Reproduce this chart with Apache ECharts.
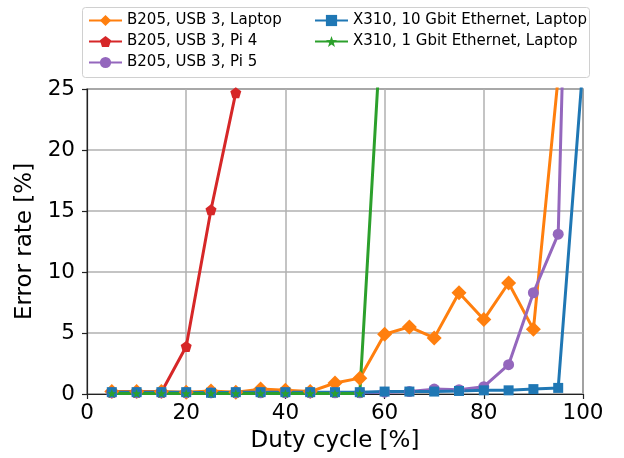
<!DOCTYPE html>
<html>
<head>
<meta charset="utf-8">
<script src="https://cdn.jsdelivr.net/npm/echarts@6/dist/echarts.min.js"></script>
<style>
  html, body { margin: 0; padding: 0; background: #fff; }
  #chart { width: 624px; height: 458px; }
</style>
</head>
<body>
<div id="chart"></div>
<script>
// Duty cycle steps (%) and measured error rates (%) per setup
const dutyCycle = [5, 10, 15, 20, 25, 30, 35, 40, 45, 50, 55, 60, 65, 70, 75, 80, 85, 90, 95, 100];

const b205Laptop = [0.2, 0.2, 0.2, 0.15, 0.25, 0.15, 0.4, 0.3, 0.2, 0.9, 1.3, 4.9, 5.5, 4.6, 8.3, 6.1, 9.1, 5.3, 26];
const b205Pi4 = [0.15, 0.15, 0.15, 3.9, 15.1, 24.7];
const b205Pi5 = [0.1, 0.1, 0.1, 0.1, 0.1, 0.1, 0.1, 0.1, 0.1, 0.1, 0.1, 0.15, 0.2, 0.4, 0.35, 0.6, 2.4, 8.3, 13.1, 90];
const x310Eth10G = [0.15, 0.15, 0.15, 0.15, 0.1, 0.15, 0.15, 0.15, 0.15, 0.15, 0.15, 0.2, 0.2, 0.2, 0.25, 0.3, 0.3, 0.4, 0.5, 27];
const x310Eth1G = [0.05, 0.05, 0.05, 0.05, 0.05, 0.05, 0.05, 0.05, 0.05, 0.05, 0.05, 35];

const seriesNames = [
  'B205, USB 3, Laptop',
  'B205, USB 3, Pi 4',
  'B205, USB 3, Pi 5',
  'X310, 10 Gbit Ethernet, Laptop',
  'X310, 1 Gbit Ethernet, Laptop'
];

const xTicks = { min: 0, max: 100, interval: 20 };
const yTicks = { min: 0, max: 25, interval: 5 };

const pentagon = 'path://M0,-10L9.51,-3.09L5.88,8.09L-5.88,8.09L-9.51,-3.09Z';
const star = 'path://M0,-10L2.35,-3.24L9.51,-3.09L3.8,1.24L5.88,8.09L0,4L-5.88,8.09L-3.8,1.24L-9.51,-3.09L-2.35,-3.24Z';

const FONT = 'DejaVu Sans';

function pairs(values) {
  return values.map((v, i) => [dutyCycle[i], v]);
}

function lineSeries(name, values, color, symbol, size) {
  return {
    name: name,
    type: 'line',
    data: pairs(values),
    symbol: symbol,
    symbolSize: size,
    showAllSymbol: true,
    clip: true,
    lineStyle: { color: color, width: 3 },
    itemStyle: { color: color },
    emphasis: { disabled: true },
    animation: false
  };
}

const chart = echarts.init(document.getElementById('chart'), null, { renderer: 'canvas' });

const legendCommon = {
  orient: 'vertical',
  itemWidth: 33,
  itemHeight: 14,
  itemGap: 6,
  textStyle: { fontFamily: FONT, fontSize: 15, color: '#000' },
  selectedMode: false
};

chart.setOption({
  backgroundColor: '#fff',
  animation: false,
  grid: {
    left: 87, right: 41, top: 89, bottom: 64,
    show: true, borderColor: '#222', borderWidth: 1.2, backgroundColor: '#fff'
  },
  graphic: [{
    type: 'rect',
    shape: { x: 82.5, y: 7.5, width: 507, height: 70, r: 3 },
    style: { fill: '#fff', stroke: '#d0d0d0', lineWidth: 1 },
    z: -1
  }],
  legend: [
    Object.assign({ left: 83, top: 8, data: seriesNames.slice(0, 3) }, legendCommon),
    Object.assign({ left: 309, top: 8, data: seriesNames.slice(3) }, legendCommon)
  ],
  xAxis: {
    type: 'value',
    min: xTicks.min, max: xTicks.max, interval: xTicks.interval,
    name: 'Duty cycle [%]',
    nameLocation: 'middle',
    nameGap: 36,
    nameTextStyle: { fontFamily: FONT, fontSize: 23, color: '#000' },
    axisLine: { show: true, lineStyle: { color: '#222', width: 1.2 } },
    axisTick: { show: true, inside: false, length: 5, lineStyle: { color: '#222', width: 1.2 } },
    axisLabel: { fontFamily: FONT, fontSize: 21.5, color: '#000', margin: 8 },
    splitLine: { show: true, lineStyle: { color: '#b0b0b0', width: 1.5 } }
  },
  yAxis: {
    type: 'value',
    min: yTicks.min, max: yTicks.max, interval: yTicks.interval,
    name: 'Error rate [%]',
    nameLocation: 'middle',
    nameGap: 48,
    nameRotate: 90,
    nameTextStyle: { fontFamily: FONT, fontSize: 23, color: '#000' },
    axisLine: { show: true, lineStyle: { color: '#222', width: 1.2 } },
    axisTick: { show: true, inside: false, length: 5, lineStyle: { color: '#222', width: 1.2 } },
    axisLabel: { fontFamily: FONT, fontSize: 21.5, color: '#000', margin: 12 },
    splitLine: { show: true, lineStyle: { color: '#b0b0b0', width: 1.5 } }
  },
  series: [
    lineSeries(seriesNames[0], b205Laptop, '#ff7f0e', 'diamond', 15),
    lineSeries(seriesNames[1], b205Pi4, '#d62728', pentagon, 11),
    lineSeries(seriesNames[2], b205Pi5, '#9467bd', 'circle', 11),
    lineSeries(seriesNames[3], x310Eth10G, '#1f77b4', 'rect', 10),
    lineSeries(seriesNames[4], x310Eth1G, '#2ca02c', star, 9)
  ]
});
</script>
</body>
</html>
